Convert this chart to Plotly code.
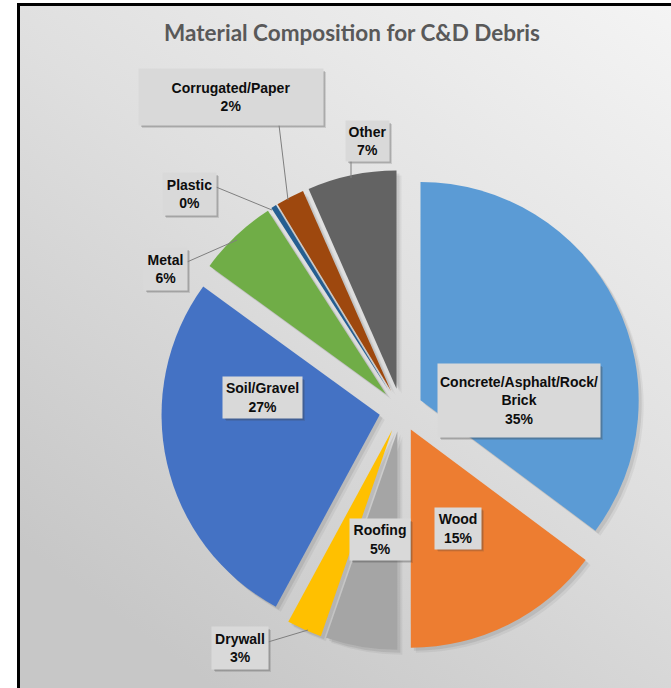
import base64
import plotly.graph_objects as go

# Share of total C&D debris by material (percent)
materials = ["Concrete/Asphalt/Rock/Brick", "Wood", "Roofing", "Drywall", "Soil/Gravel",
             "Metal", "Plastic", "Corrugated/Paper", "Other"]
shares = [35.2, 14.8, 5.3, 2.6, 27.1, 5.9, 0.4, 2.1, 6.6]
colors = ["#5B9BD5", "#ED7D31", "#A5A5A5", "#FFC000", "#4472C4",
          "#70AD47", "#255E91", "#9E480E", "#636363"]
# label text per slice (name may wrap)
label_names = ["Concrete/Asphalt/Rock/<br>Brick", "Wood", "Roofing", "Drywall", "Soil/Gravel",
               "Metal", "Plastic", "Corrugated/Paper", "Other"]

W, H = 671, 688


def px(x, y):
    return x / W, 1 - y / H


explode = [0.1] * len(shares)
dom_x = [161 / W, 641 / W]
dom_y = [1 - 650 / H, 1 - 170 / H]

fig = go.Figure()

# soft drop shadow under the slices
for dx, dy, alpha in [(5, 5, 0.05), (3, 3, 0.08)]:
    fig.add_trace(go.Pie(
        labels=materials, values=shares, sort=False, direction="clockwise", rotation=0,
        pull=explode, marker=dict(colors=[f"rgba(0,0,0,{alpha})"] * len(shares), line=dict(width=0)),
        textinfo="none", hoverinfo="skip", showlegend=False,
        domain=dict(x=[dom_x[0] + dx / W, dom_x[1] + dx / W], y=[dom_y[0] - dy / H, dom_y[1] - dy / H]),
    ))

fig.add_trace(go.Pie(
    labels=materials, values=shares, sort=False, direction="clockwise", rotation=0,
    pull=explode, marker=dict(colors=colors, line=dict(width=0)),
    textinfo="none", showlegend=False, domain=dict(x=dom_x, y=dom_y),
))

# data callout boxes: centre (px), box size (px)
boxes = {
    "Concrete/Asphalt/Rock/Brick": ((519, 400.5), (162, 73)),
    "Wood": ((458, 528), (46, 41)),
    "Roofing": ((380, 539.5), (60, 41)),
    "Drywall": ((240, 648), (56, 42)),
    "Soil/Gravel": ((262.5, 397.5), (79, 41)),
    "Metal": ((165.5, 269), (43, 42)),
    "Plastic": ((189.5, 194), (53, 42)),
    "Corrugated/Paper": ((231, 97), (184, 56)),
    "Other": ((367.5, 141), (43, 40)),
}
# leader lines from callout to slice (px)
leaders = {
    "Corrugated/Paper": ((279, 125), (288, 200)),
    "Other": ((351, 161), (351, 178)),
    "Plastic": ((216, 187), (272, 210)),
    "Metal": ((187, 262), (237, 240)),
    "Drywall": ((268, 642), (308, 630)),
}

label_font = dict(family="Liberation Sans, Arial, sans-serif", size=14, color="#0d0d0d")
annotations = []
shapes = []
for name, disp, val in zip(materials, label_names, shares):
    (cx, cy), (bw, bh) = boxes[name]
    x, y = px(cx, cy)
    # drop shadow behind the callout box
    for s, a in [(3, 0.16), (2, 0.22)]:
        x0, y0 = px(cx - bw / 2 + s, cy - bh / 2 + s)
        x1, y1 = px(cx + bw / 2 + s, cy + bh / 2 + s)
        shapes.append(dict(type="rect", xref="paper", yref="paper", x0=x0, y0=y0, x1=x1, y1=y1,
                           line=dict(width=0), fillcolor=f"rgba(60,60,60,{a})", layer="above"))
    annotations.append(dict(
        x=x, y=y, xref="paper", yref="paper", xanchor="center", yanchor="middle",
        showarrow=False, text=f"<b>{disp}<br>{val:.0f}%</b>", width=bw, height=bh, borderpad=0,
        font=label_font, bgcolor="#d9d9d9",
    ))
    if name in leaders:
        (lx0, ly0), (lx1, ly1) = leaders[name]
        p0, p1 = px(lx0, ly0), px(lx1, ly1)
        shapes.append(dict(type="line", xref="paper", yref="paper", x0=p0[0], y0=p0[1],
                           x1=p1[0], y1=p1[1], line=dict(color="#7f7f7f", width=1)))

# chart title
tx, ty = px(352, 33)
annotations.append(dict(
    x=tx, y=ty, xref="paper", yref="paper", xanchor="center", yanchor="middle", showarrow=False,
    text="<b>Material Composition for C&D Debris</b>",
    font=dict(family="Lato, Open Sans, sans-serif", size=22.5, color="#595959"),
))

# chart frame
fx, fy = px(18.5, 4.5)
shapes.append(dict(type="rect", xref="paper", yref="paper", x0=fx, y0=fy, x1=1.1, y1=-0.1,
                   line=dict(color="#000000", width=3), fillcolor="rgba(0,0,0,0)"))

# gradient chart-area fill
svg = ('<svg xmlns="http://www.w3.org/2000/svg" width="660" height="690" viewBox="0 0 660 690" '
       'preserveAspectRatio="none"><defs><linearGradient id="g" x1="1" y1="0" x2="0.3" y2="1">'
       '<stop offset="0" stop-color="#f4f4f4"/><stop offset="0.5" stop-color="#dfdfdf"/>'
       '<stop offset="1" stop-color="#c7c7c7"/></linearGradient></defs>'
       '<rect width="660" height="690" fill="url(#g)"/></svg>')
bg_uri = "data:image/svg+xml;base64," + base64.b64encode(svg.encode()).decode()

fig.update_layout(
    width=W, height=H, margin=dict(l=0, r=0, t=0, b=0),
    paper_bgcolor="#ffffff", plot_bgcolor="rgba(0,0,0,0)",
    showlegend=False, annotations=annotations, shapes=shapes,
    images=[dict(source=bg_uri, xref="paper", yref="paper", x=fx, y=fy,
                 sizex=1 - fx, sizey=fy, xanchor="left", yanchor="top",
                 sizing="stretch", layer="below")],
)

fig.write_html("out.html")
